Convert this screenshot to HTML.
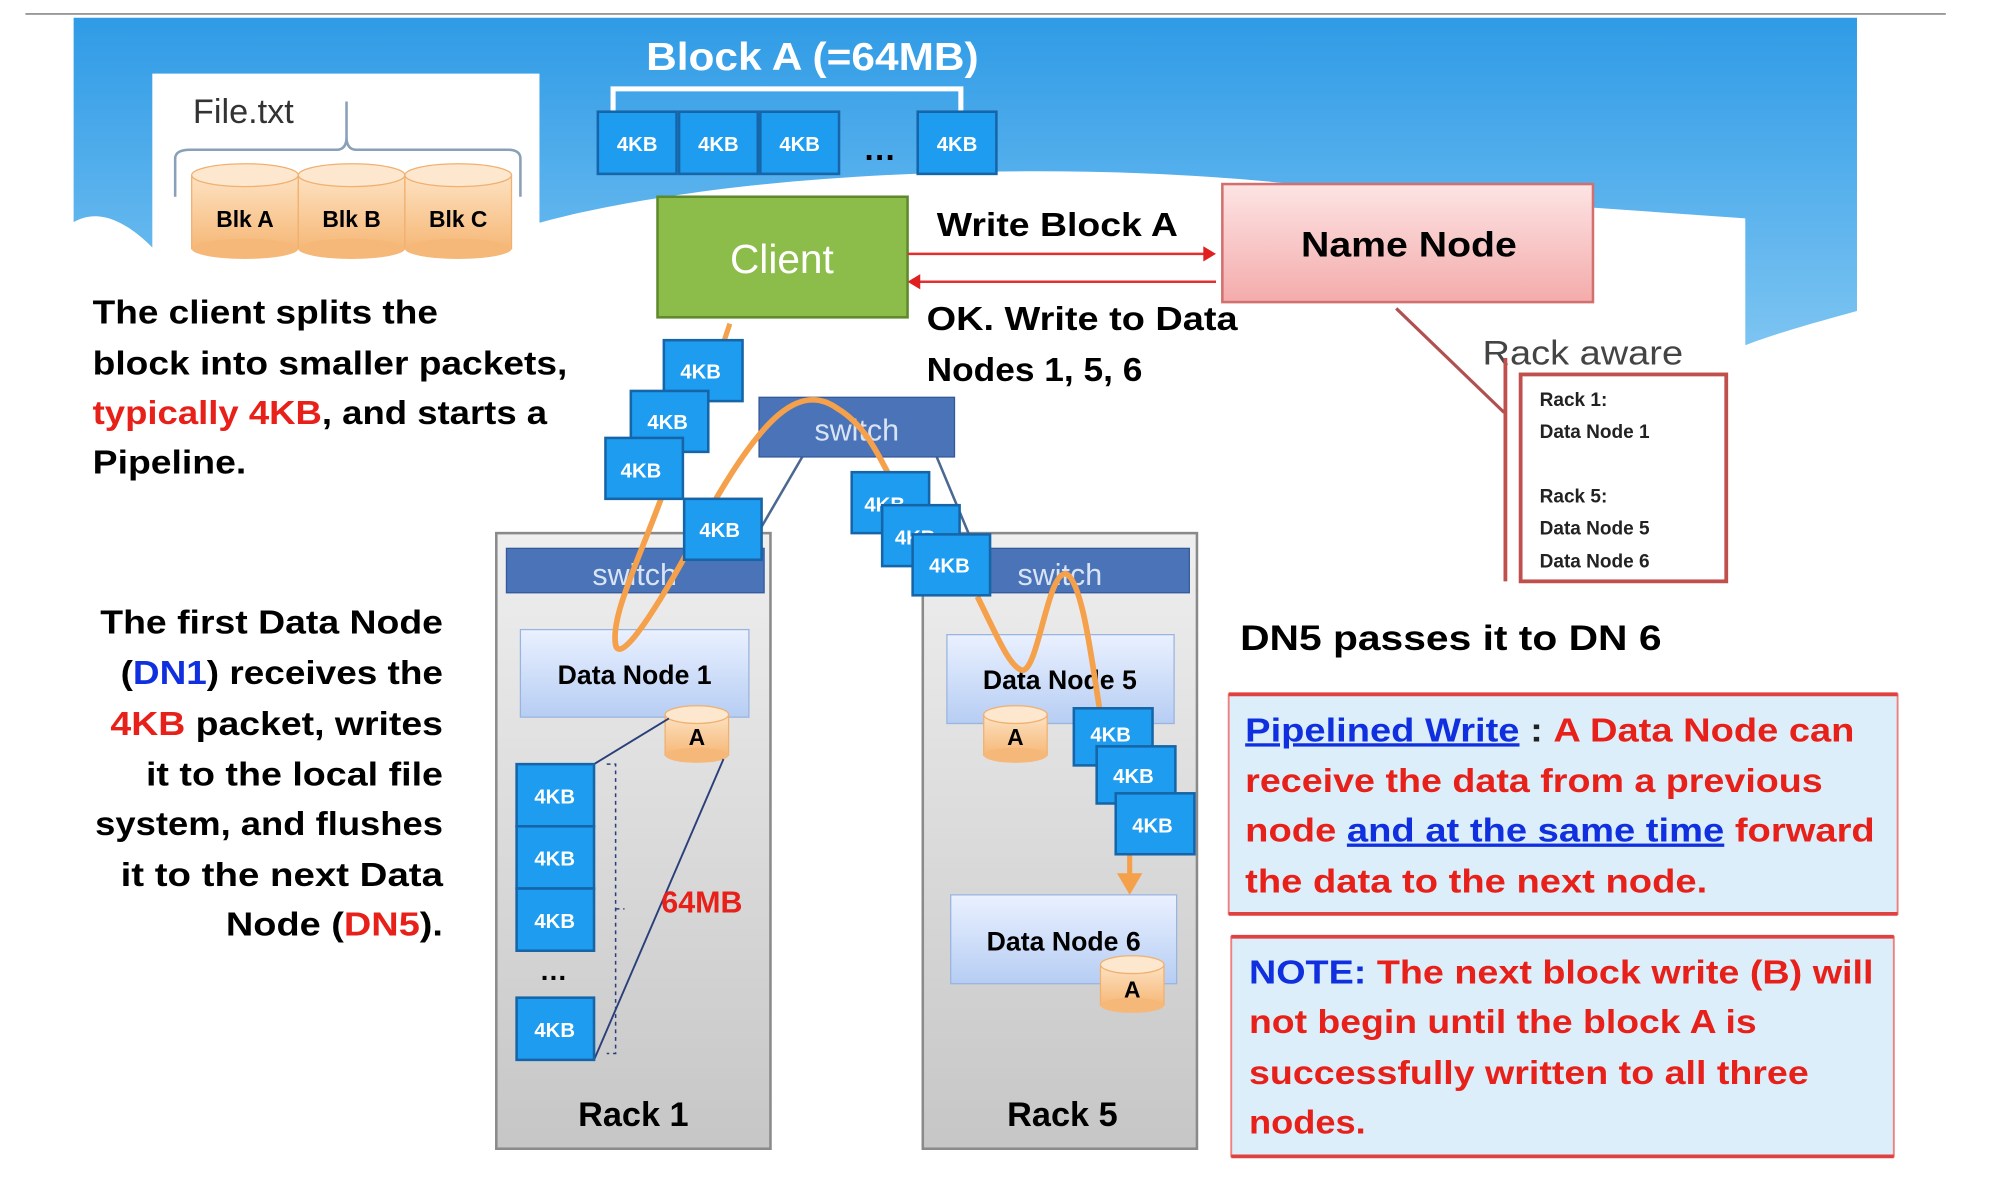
<!DOCTYPE html>
<html><head><meta charset="utf-8"><style>
html,body{margin:0;padding:0;background:#fff;overflow:hidden}
svg{display:block}
text{font-family:"Liberation Sans",sans-serif}
.b{font-weight:bold}
</style></head><body>
<svg width="1989" height="1183" viewBox="0 0 1567 932" preserveAspectRatio="none" xmlns="http://www.w3.org/2000/svg">
<defs>
<linearGradient id="sky" x1="0" y1="0" x2="0" y2="1"><stop offset="0" stop-color="#2f9be6"/><stop offset="1" stop-color="#7cc4f2"/></linearGradient>
<linearGradient id="cyl" x1="0" y1="0" x2="0" y2="1"><stop offset="0" stop-color="#fde2c2"/><stop offset="1" stop-color="#f6b878"/></linearGradient>
<linearGradient id="nn" x1="0" y1="0" x2="0" y2="1"><stop offset="0" stop-color="#fde4e4"/><stop offset="1" stop-color="#f4abab"/></linearGradient>
<linearGradient id="rack" x1="0" y1="0" x2="0" y2="1"><stop offset="0" stop-color="#efefef"/><stop offset="1" stop-color="#c6c6c6"/></linearGradient>
<linearGradient id="dn" x1="0" y1="0" x2="0" y2="1"><stop offset="0" stop-color="#eaf1ff"/><stop offset="1" stop-color="#b6cdf3"/></linearGradient>
</defs>
<line x1="20" y1="11" x2="1533" y2="11" stroke="#999" stroke-width="1.5"/>
<path d="M58,14 H1463 V245 C1445,250 1400,262 1375,272 V172 L1060,150 C900,128 700,132 560,150 C470,162 420,175 380,190 L120,195 C90,165 70,168 58,175 Z" fill="url(#sky)"/>
<rect x="120" y="58" width="305" height="140" fill="#fff"/>
<text x="152" y="97" font-size="27" fill="#333">File.txt</text>
<path d="M138,155 V125 Q138,118 150,118 H265 Q273,118 273,108 V80 M273,108 Q273,118 281,118 H400 Q410,118 410,125 V155" fill="none" stroke="#8a9fb8" stroke-width="2"/>
<g font-size="18" class="b" text-anchor="middle">
<g><rect x="151" y="138" width="84" height="58" fill="url(#cyl)" stroke="#f0b070"/><ellipse cx="193" cy="196" rx="42" ry="8" fill="#f6b878"/><ellipse cx="193" cy="138" rx="42" ry="9" fill="#fde8cf" stroke="#f0b070"/><text x="193" y="179">Blk A</text></g>
<g><rect x="235" y="138" width="84" height="58" fill="url(#cyl)" stroke="#f0b070"/><ellipse cx="277" cy="196" rx="42" ry="8" fill="#f6b878"/><ellipse cx="277" cy="138" rx="42" ry="9" fill="#fde8cf" stroke="#f0b070"/><text x="277" y="179">Blk B</text></g>
<g><rect x="319" y="138" width="84" height="58" fill="url(#cyl)" stroke="#f0b070"/><ellipse cx="361" cy="196" rx="42" ry="8" fill="#f6b878"/><ellipse cx="361" cy="138" rx="42" ry="9" fill="#fde8cf" stroke="#f0b070"/><text x="361" y="179">Blk C</text></g>
</g>
<text x="640" y="55" font-size="31" class="b" fill="#fff" text-anchor="middle" textLength="262" lengthAdjust="spacingAndGlyphs">Block A (=64MB)</text>
<path d="M483,88 V70 H757 V88" fill="none" stroke="#fff" stroke-width="4"/>
<g font-size="16" fill="#fff" class="b" text-anchor="middle">
<rect x="471" y="88" width="62" height="49" fill="#1e9cf0" stroke="#1565a8" stroke-width="2"/><text x="502" y="119">4KB</text>
<rect x="535" y="88" width="62" height="49" fill="#1e9cf0" stroke="#1565a8" stroke-width="2"/><text x="566" y="119">4KB</text>
<rect x="599" y="88" width="62" height="49" fill="#1e9cf0" stroke="#1565a8" stroke-width="2"/><text x="630" y="119">4KB</text>
<rect x="723" y="88" width="62" height="49" fill="#1e9cf0" stroke="#1565a8" stroke-width="2"/><text x="754" y="119">4KB</text>
</g>
<text x="693" y="126" font-size="26" class="b" text-anchor="middle">…</text>
<rect x="518" y="155" width="197" height="95" fill="#8cbd4a" stroke="#5f8a2c" stroke-width="2"/>
<text x="616" y="215" font-size="32" fill="#fff" text-anchor="middle">Client</text>
<text x="738" y="186" font-size="26" class="b" textLength="190" lengthAdjust="spacingAndGlyphs">Write Block A</text>
<line x1="715" y1="200" x2="950" y2="200" stroke="#e03030" stroke-width="2"/><path d="M958,200 L948,194 L948,206Z" fill="#e02020"/>
<line x1="958" y1="222" x2="723" y2="222" stroke="#e03030" stroke-width="2"/><path d="M715,222 L725,216 L725,228Z" fill="#e02020"/>
<rect x="963" y="145" width="292" height="93" fill="url(#nn)" stroke="#d27070" stroke-width="2"/>
<text x="1110" y="202" font-size="28" class="b" text-anchor="middle" textLength="170" lengthAdjust="spacingAndGlyphs">Name Node</text>
<text x="730" y="260" font-size="26" class="b" textLength="245" lengthAdjust="spacingAndGlyphs">OK. Write to Data</text>
<text x="730" y="300" font-size="26" class="b" textLength="170" lengthAdjust="spacingAndGlyphs">Nodes 1, 5, 6</text>
<line x1="1100" y1="243" x2="1185" y2="325" stroke="#b05050" stroke-width="2.5"/>
<text x="1168" y="287" font-size="27" fill="#444" textLength="158" lengthAdjust="spacingAndGlyphs">Rack aware</text>
<line x1="1186" y1="282" x2="1186" y2="458" stroke="#c0504d" stroke-width="3"/>
<rect x="1198" y="295" width="162" height="163" fill="#fff" stroke="#c0504d" stroke-width="3"/>
<g font-size="15" class="b" fill="#222">
<text x="1213" y="320">Rack 1:</text><text x="1213" y="345">Data Node 1</text>
<text x="1213" y="396">Rack 5:</text><text x="1213" y="421">Data Node 5</text><text x="1213" y="447">Data Node 6</text>
</g>
<g font-size="26" class="b">
<text x="73" y="255" textLength="272" lengthAdjust="spacingAndGlyphs">The client splits the</text>
<text x="73" y="295" textLength="374" lengthAdjust="spacingAndGlyphs">block into smaller packets,</text>
<text x="73" y="334" textLength="358" lengthAdjust="spacingAndGlyphs"><tspan fill="#e8201a">typically 4KB</tspan>, and starts a</text>
<text x="73" y="373" textLength="121" lengthAdjust="spacingAndGlyphs">Pipeline.</text>
</g>
<g font-size="26" class="b">
<text x="79" y="499" textLength="270" lengthAdjust="spacingAndGlyphs">The first Data Node</text>
<text x="95" y="539" textLength="254" lengthAdjust="spacingAndGlyphs">(<tspan fill="#1030e0">DN1</tspan>) receives the</text>
<text x="87" y="579" textLength="262" lengthAdjust="spacingAndGlyphs"><tspan fill="#e8201a">4KB</tspan> packet, writes</text>
<text x="115" y="619" textLength="234" lengthAdjust="spacingAndGlyphs">it to the local file</text>
<text x="75" y="658" textLength="274" lengthAdjust="spacingAndGlyphs">system, and flushes</text>
<text x="95" y="698" textLength="254" lengthAdjust="spacingAndGlyphs">it to the next Data</text>
<text x="178" y="737" textLength="171" lengthAdjust="spacingAndGlyphs">Node (<tspan fill="#e8201a">DN5</tspan>).</text>
</g>
<rect x="391" y="420" width="216" height="485" fill="url(#rack)" stroke="#8a8a8a" stroke-width="2"/>
<rect x="727" y="420" width="216" height="485" fill="url(#rack)" stroke="#8a8a8a" stroke-width="2"/>
<text x="499" y="887" font-size="27" class="b" text-anchor="middle">Rack 1</text>
<text x="837" y="887" font-size="27" class="b" text-anchor="middle">Rack 5</text>
<rect x="399" y="432" width="203" height="35" fill="#4a73b8" stroke="#34589a"/>
<text x="500" y="461" font-size="24" fill="#d8e4f5" text-anchor="middle">switch</text>
<rect x="727" y="432" width="210" height="35" fill="#4a73b8" stroke="#34589a"/>
<text x="835" y="461" font-size="24" fill="#d8e4f5" text-anchor="middle">switch</text>
<line x1="632" y1="360" x2="600" y2="415" stroke="#4a6890" stroke-width="2"/>
<line x1="738" y1="360" x2="768" y2="432" stroke="#4a6890" stroke-width="2"/>
<rect x="598" y="313" width="154" height="47" fill="#4a73b8" stroke="#34589a"/>
<text x="675" y="347" font-size="24" fill="#d8e4f5" text-anchor="middle">switch</text>
<rect x="410" y="496" width="180" height="69" fill="url(#dn)" stroke="#9ab4e0"/>
<text x="500" y="539" font-size="21" class="b" text-anchor="middle">Data Node 1</text>
<rect x="746" y="500" width="179" height="70" fill="url(#dn)" stroke="#9ab4e0"/>
<text x="835" y="543" font-size="21" class="b" text-anchor="middle">Data Node 5</text>
<rect x="749" y="705" width="178" height="70" fill="url(#dn)" stroke="#9ab4e0"/>
<text x="838" y="749" font-size="21" class="b" text-anchor="middle">Data Node 6</text>
<g font-size="18" class="b" text-anchor="middle">
<rect x="524" y="563" width="50" height="32" fill="url(#cyl)" stroke="#f0b070"/><ellipse cx="549" cy="595" rx="25" ry="6" fill="#f6b878"/><ellipse cx="549" cy="563" rx="25" ry="7" fill="#fde8cf" stroke="#f0b070"/><text x="549" y="587">A</text>
<rect x="775" y="563" width="50" height="32" fill="url(#cyl)" stroke="#f0b070"/><ellipse cx="800" cy="595" rx="25" ry="6" fill="#f6b878"/><ellipse cx="800" cy="563" rx="25" ry="7" fill="#fde8cf" stroke="#f0b070"/><text x="800" y="587">A</text>
<rect x="867" y="760" width="50" height="32" fill="url(#cyl)" stroke="#f0b070"/><ellipse cx="892" cy="792" rx="25" ry="6" fill="#f6b878"/><ellipse cx="892" cy="760" rx="25" ry="7" fill="#fde8cf" stroke="#f0b070"/><text x="892" y="786">A</text>
</g>
<line x1="468" y1="602" x2="527" y2="566" stroke="#2a3f7a" stroke-width="1.5"/>
<line x1="468" y1="835" x2="570" y2="598" stroke="#2a3f7a" stroke-width="1.5"/>
<path d="M478,602 H485 V830 H478 M485,716 H492" fill="none" stroke="#2a3f7a" stroke-width="1.2" stroke-dasharray="3,3"/>
<text x="521" y="719" font-size="24" class="b" fill="#e8201a">64MB</text>
<g font-size="16" fill="#fff" class="b" text-anchor="middle">
<rect x="407" y="602" width="61" height="49" fill="#1e9cf0" stroke="#1565a8" stroke-width="2"/><text x="437" y="633">4KB</text>
<rect x="407" y="651" width="61" height="49" fill="#1e9cf0" stroke="#1565a8" stroke-width="2"/><text x="437" y="682">4KB</text>
<rect x="407" y="700" width="61" height="49" fill="#1e9cf0" stroke="#1565a8" stroke-width="2"/><text x="437" y="731">4KB</text>
<rect x="407" y="786" width="61" height="49" fill="#1e9cf0" stroke="#1565a8" stroke-width="2"/><text x="437" y="817">4KB</text>
</g>
<text x="436" y="772" font-size="22" class="b" text-anchor="middle">…</text>
<path d="M575,255 L570,270" fill="none" stroke="#f5a04a" stroke-width="4"/>
<path d="M535,350 C515,420 480,480 485,508 C490,530 540,440 560,400 C600,330 630,300 660,322 C690,340 700,380 720,410" fill="none" stroke="#f5a04a" stroke-width="4.5"/>
<path d="M770,470 C785,500 795,525 805,528 C818,530 825,450 840,452 C855,460 862,540 870,580" fill="none" stroke="#f5a04a" stroke-width="4.5"/>
<line x1="890" y1="670" x2="890" y2="695" stroke="#f5a04a" stroke-width="4"/><path d="M880,688 L890,705 L900,688Z" fill="#f5a04a"/>
<g font-size="16" fill="#fff" class="b" text-anchor="middle">
<rect x="523" y="268" width="62" height="48" fill="#1e9cf0" stroke="#1565a8" stroke-width="2"/><text x="552" y="298">4KB</text>
<rect x="497" y="308" width="61" height="48" fill="#1e9cf0" stroke="#1565a8" stroke-width="2"/><text x="526" y="338">4KB</text>
<rect x="477" y="345" width="61" height="48" fill="#1e9cf0" stroke="#1565a8" stroke-width="2"/><text x="505" y="376">4KB</text>
<rect x="539" y="393" width="61" height="48" fill="#1e9cf0" stroke="#1565a8" stroke-width="2"/><text x="567" y="423">4KB</text>
<rect x="671" y="372" width="61" height="48" fill="#1e9cf0" stroke="#1565a8" stroke-width="2"/><text x="697" y="403">4KB</text>
<rect x="695" y="398" width="61" height="48" fill="#1e9cf0" stroke="#1565a8" stroke-width="2"/><text x="721" y="429">4KB</text>
<rect x="719" y="421" width="61" height="48" fill="#1e9cf0" stroke="#1565a8" stroke-width="2"/><text x="748" y="451">4KB</text>
<rect x="846" y="558" width="62" height="45" fill="#1e9cf0" stroke="#1565a8" stroke-width="2"/><text x="875" y="584">4KB</text>
<rect x="864" y="588" width="62" height="45" fill="#1e9cf0" stroke="#1565a8" stroke-width="2"/><text x="893" y="617">4KB</text>
<rect x="879" y="625" width="62" height="48" fill="#1e9cf0" stroke="#1565a8" stroke-width="2"/><text x="908" y="656">4KB</text>
</g>
<text x="977" y="512" font-size="28" class="b" textLength="332" lengthAdjust="spacingAndGlyphs">DN5 passes it to DN 6</text>
<rect x="968" y="547" width="527" height="173" fill="#dbeefa" stroke="#ef8080" stroke-width="1.5"/>
<line x1="968" y1="547" x2="1495" y2="547" stroke="#e04040" stroke-width="3"/>
<line x1="968" y1="720" x2="1495" y2="720" stroke="#e04040" stroke-width="3"/>
<g font-size="26" class="b" fill="#e8201a">
<text x="981" y="584" textLength="480" lengthAdjust="spacingAndGlyphs"><tspan fill="#1030e0" text-decoration="underline">Pipelined Write</tspan><tspan fill="#222"> : </tspan>A Data Node can</text>
<text x="981" y="624" textLength="455" lengthAdjust="spacingAndGlyphs">receive the data from a previous</text>
<text x="981" y="663" textLength="496" lengthAdjust="spacingAndGlyphs">node <tspan fill="#1030e0" text-decoration="underline">and at the same time</tspan> forward</text>
<text x="981" y="703" textLength="364" lengthAdjust="spacingAndGlyphs">the data to the next node.</text>
</g>
<rect x="970" y="738" width="522" height="173" fill="#dbeefa" stroke="#ef8080" stroke-width="1.5"/>
<line x1="970" y1="738" x2="1492" y2="738" stroke="#e04040" stroke-width="3"/>
<line x1="970" y1="911" x2="1492" y2="911" stroke="#e04040" stroke-width="3"/>
<g font-size="26" class="b" fill="#e8201a">
<text x="984" y="775" textLength="492" lengthAdjust="spacingAndGlyphs"><tspan fill="#1030e0">NOTE:</tspan> The next block write (B) will</text>
<text x="984" y="814" textLength="400" lengthAdjust="spacingAndGlyphs">not begin until the block A is</text>
<text x="984" y="854" textLength="441" lengthAdjust="spacingAndGlyphs">successfully written to all three</text>
<text x="984" y="893" textLength="92" lengthAdjust="spacingAndGlyphs">nodes.</text>
</g>
</svg>
</body></html>
